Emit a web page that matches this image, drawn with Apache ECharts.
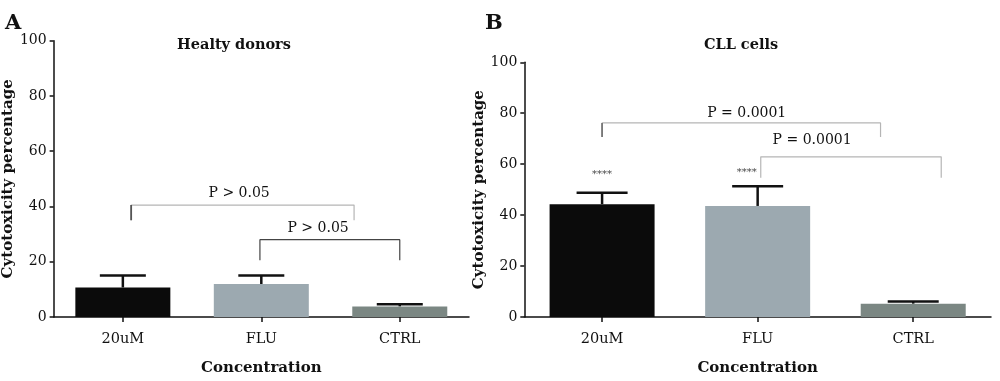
<!DOCTYPE html>
<html><head><meta charset="utf-8">
<script src="https://cdn.jsdelivr.net/npm/echarts@6/dist/echarts.min.js"></script>
<style>html,body{margin:0;padding:0;background:#fff}#c{width:1000px;height:381px}</style>
</head><body><div id="c"></div>
<script>
var categories = ['20uM', 'FLU', 'CTRL'];
var yTicks = [0, 20, 40, 60, 80, 100];
var healthyMeans = [10.7, 11.9, 3.8];
var healthyErrTop = [15.0, 15.0, 4.6];
var cllMeans = [44.3, 43.6, 5.2];
var cllErrTop = [48.8, 51.3, 6.1];
// brackets: [xLeft, xRight, yTop, yLegEnd] in category units / percent
var healthyBrackets = [[0.06, 1.67, 40.5, 35.0], [0.99, 2.0, 28.0, 20.5]];
var healthyBracketLabels = [['P > 0.05', 0.84, 44.9], ['P > 0.05', 1.41, 32.1]];
var cllBrackets = [[0.0, 1.79, 76.2, 70.7], [1.02, 2.18, 62.9, 54.7]];
var cllBracketLabels = [['P = 0.0001', 0.93, 80.1], ['P = 0.0001', 1.35, 69.4]];
var cllStars = [['****', 0.0, 56.0], ['****', 0.93, 56.6]];
var panelTitles = ['Healty donors', 'CLL cells'];
var panelLetters = ['A', 'B'];
var yName = 'Cytotoxicity percentage';
var xName = 'Concentration';

var FONT = '"DejaVu Serif", serif';
var barColors = ['#0b0b0b', '#9ca9b0', '#7b8783'];

var chart = echarts.init(document.getElementById('c'));

function catAxis(gi) {
  return {
    type: 'category', gridIndex: gi, data: categories,
    axisLine: {onZero: false, lineStyle: {color: '#111', width: 1.5}},
    axisTick: {show: true, alignWithLabel: true, length: 5, lineStyle: {color: '#111', width: 1.5}},
    axisLabel: {color: '#111', fontFamily: FONT, fontSize: 14.5, margin: 15},
    name: xName, nameLocation: 'middle', nameGap: 44,
    nameTextStyle: {fontFamily: FONT, fontWeight: 'bold', fontSize: 15, color: '#111'}
  };
}
function valXAxis(gi) {
  return {type: 'value', gridIndex: gi, min: -0.5, max: 2.5, show: false};
}
function yAxis(gi, gap) {
  return {
    type: 'value', gridIndex: gi, min: yTicks[0], max: yTicks[yTicks.length - 1], interval: yTicks[1] - yTicks[0],
    axisLine: {show: true, onZero: false, lineStyle: {color: '#111', width: 1.5}},
    axisTick: {show: true, length: 4, lineStyle: {color: '#111', width: 1.5}},
    axisLabel: {color: '#111', fontFamily: FONT, fontSize: 14, margin: 7},
    splitLine: {show: false},
    name: yName, nameLocation: 'middle', nameGap: gap, nameRotate: 90,
    nameTextStyle: {fontFamily: FONT, fontWeight: 'bold', fontSize: 15, color: '#111'}
  };
}

function barSeries(gi, vals, width) {
  return {
    type: 'bar', xAxisIndex: gi * 2, yAxisIndex: gi, barWidth: width,
    data: vals.map(function (v, i) { return {value: v, itemStyle: {color: barColors[i]}}; }),
    silent: true
  };
}
function errSeries(gi, means, tops, capW) {
  return {
    type: 'custom', xAxisIndex: gi * 2, yAxisIndex: gi, silent: true, z: 1,
    data: means.map(function (m, i) { return [i, m, tops[i]]; }),
    renderItem: function (params, api) {
      var p0 = api.coord([api.value(0), api.value(1)]);
      var p1 = api.coord([api.value(0), api.value(2)]);
      var st = {stroke: '#111', lineWidth: 2.5};
      return {type: 'group', children: [
        {type: 'line', shape: {x1: p0[0], y1: p0[1], x2: p1[0], y2: p1[1]}, style: st},
        {type: 'line', shape: {x1: p1[0] - capW / 2, y1: p1[1], x2: p1[0] + capW / 2, y2: p1[1]}, style: st}
      ]};
    }
  };
}
function bracketSeries(gi, b, color, legColor) {
  var out = [{
    type: 'line', xAxisIndex: gi * 2 + 1, yAxisIndex: gi, silent: true, symbol: 'none', animation: false,
    lineStyle: {color: color, width: 1.2},
    data: [[b[0], b[3]], [b[0], b[2]], [b[1], b[2]], [b[1], b[3]]]
  }];
  if (legColor) {
    out.push({
      type: 'line', xAxisIndex: gi * 2 + 1, yAxisIndex: gi, silent: true, symbol: 'none', animation: false,
      lineStyle: {color: legColor, width: 1.8},
      data: [[b[0], b[3]], [b[0], b[2]]]
    });
  }
  return out;
}
function textSeries(gi, items, size, color) {
  return {
    type: 'custom', xAxisIndex: gi * 2 + 1, yAxisIndex: gi, silent: true,
    data: items.map(function (t) { return [t[1], t[2], t[0]]; }),
    renderItem: function (params, api) {
      var p = api.coord([api.value(0), api.value(1)]);
      return {type: 'text', x: p[0], y: p[1], style: {
        text: items[params.dataIndex][0], fontFamily: FONT, fontSize: size, fill: color,
        textAlign: 'center', textVerticalAlign: 'middle'}};
    }
  };
}

var series = [];
series.push(barSeries(0, healthyMeans, 95));
series.push(errSeries(0, healthyMeans, healthyErrTop, 46));
series = series.concat(bracketSeries(0, healthyBrackets[0], '#b5b5b5', '#555'));
series = series.concat(bracketSeries(0, healthyBrackets[1], '#444', null));
series.push(textSeries(0, healthyBracketLabels, 14, '#111'));

series.push(barSeries(1, cllMeans, 105));
series.push(errSeries(1, cllMeans, cllErrTop, 51));
series = series.concat(bracketSeries(1, cllBrackets[0], '#b5b5b5', '#777'));
series = series.concat(bracketSeries(1, cllBrackets[1], '#b5b5b5', null));
series.push(textSeries(1, cllBracketLabels, 14, '#111'));
series.push(textSeries(1, cllStars, 10, '#444'));

chart.setOption({
  animation: false,
  backgroundColor: '#fff',
  title: [
    {text: panelTitles[0], left: 229, top: 33, textAlign: 'center', textStyle: {fontFamily: FONT, fontWeight: 'bold', fontSize: 14.5, color: '#111'}},
    {text: panelTitles[1], left: 736, top: 33, textAlign: 'center', textStyle: {fontFamily: FONT, fontWeight: 'bold', fontSize: 14.5, color: '#111'}},
    {text: panelLetters[0], left: 0, top: 8, textStyle: {fontFamily: FONT, fontWeight: 'bold', fontSize: 21, color: '#111'}},
    {text: panelLetters[1], left: 480, top: 8, textStyle: {fontFamily: FONT, fontWeight: 'bold', fontSize: 21, color: '#111'}}
  ],
  grid: [
    {left: 49.5, top: 40.7, right: 531, bottom: 60.3},
    {left: 524.3, top: 62.3, right: 9, bottom: 62.7}
  ],
  xAxis: [catAxis(0), valXAxis(0), catAxis(1), valXAxis(1)],
  yAxis: [yAxis(0, 28), yAxis(1, 30)],
  series: series
});
</script></body></html>
